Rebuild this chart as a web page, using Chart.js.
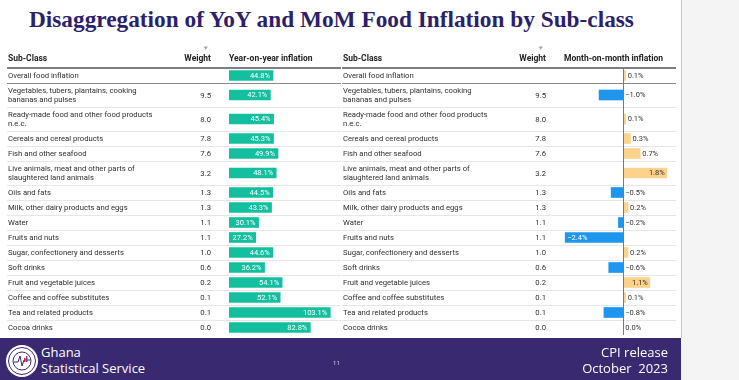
<!DOCTYPE html>
<html>
<head>
<meta charset="utf-8">
<script src="https://cdn.jsdelivr.net/npm/chart.js@4.4.4/dist/chart.umd.min.js"></script>
<style>
  html, body { margin: 0; padding: 0; }
  body { width: 739px; height: 380px; background: #f4f4f4; position: relative; overflow: hidden; font-family: Roboto, sans-serif; }
  #slide { position: absolute; left: 0; top: 0; width: 681px; height: 380px; background: #fff; }
  #edge { position: absolute; left: 681px; top: 0; width: 1px; height: 338px; background: #c8c8c8; }
  #title { position: absolute; left: 29px; top: 6px; font-family: 'Liberation Serif', serif; font-weight: bold; font-size: 23.3px; color: #2c1f6b; white-space: nowrap; }
  canvas { position: absolute; top: 0; }
  #yoy { left: 0; }
  #mom { left: 335px; }
  #footer { position: absolute; left: 0; top: 338px; width: 681px; height: 42px; background: #392970; color: #fff; font-family: 'Open Sans', sans-serif; }
  #footer .org { position: absolute; left: 41px; top: 6px; font-size: 13px; line-height: 16px; white-space: pre; }
  #footer .rel { position: absolute; right: 13px; top: 6px; font-size: 13px; line-height: 16px; text-align: right; white-space: pre; }
  #footer .page { position: absolute; left: 333px; top: 21px; font-size: 6px; color: #ddd; }
  #footer svg { position: absolute; left: 5px; top: 6px; }
</style>
</head>
<body>
<div id="slide">
  <div id="title">Disaggregation of YoY and MoM Food Inflation by Sub-class</div>
  <canvas id="yoy" width="341" height="338"></canvas>
  <canvas id="mom" width="341" height="338"></canvas>
  <div id="footer">
    <svg width="34" height="34" viewBox="0 0 34 34">
      <circle cx="17" cy="17" r="16" fill="#fff"/>
      <circle cx="17" cy="17" r="13.5" fill="none" stroke="#392970" stroke-width="1"/>
      <circle cx="17" cy="17" r="9" fill="#fff" stroke="#392970" stroke-width="1"/>
      <path d="M9 18 H13 L15 12 L17 22 L19 16 H25" fill="none" stroke="#392970" stroke-width="1"/>
      <rect x="19" y="14" width="1.5" height="4" fill="#d22"/>
      <rect x="21" y="12" width="1.5" height="6" fill="#7a3ea0"/>
    </svg>
    <div class="org">Ghana
Statistical Service</div>
    <div class="page">11</div>
    <div class="rel">CPI release
October  2023</div>
  </div>
</div>
<div id="edge"></div>

<script>
// ─── Data ────────────────────────────────────────────────────────────────────
const subClasses = [
  'Overall food inflation',
  'Vegetables, tubers, plantains, cooking\nbananas and pulses',
  'Ready-made food and other food products\nn.e.c.',
  'Cereals and cereal products',
  'Fish and other seafood',
  'Live animals, meat and other parts of\nslaughtered land animals',
  'Oils and fats',
  'Milk, other dairy products and eggs',
  'Water',
  'Fruits and nuts',
  'Sugar, confectionery and desserts',
  'Soft drinks',
  'Fruit and vegetable juices',
  'Coffee and coffee substitutes',
  'Tea and related products',
  'Cocoa drinks',
];
const weights = ['', '9.5', '8.0', '7.8', '7.6', '3.2', '1.3', '1.3', '1.1', '1.1', '1.0', '0.6', '0.2', '0.1', '0.1', '0.0'];
const yoyInflation = [44.8, 42.1, 45.4, 45.3, 49.9, 48.1, 44.5, 43.3, 30.1, 27.2, 44.6, 36.2, 54.1, 52.1, 103.1, 82.8];
const momInflation = [0.1, -1.0, 0.1, 0.3, 0.7, 1.8, -0.5, 0.2, -0.2, -2.4, 0.2, -0.6, 1.1, 0.1, -0.8, 0.0];

// ─── Row layout (two-line rows are taller) ───────────────────────────────────
const rowUnits = subClasses.map(s => 1 + 0.6 * (s.split('\n').length - 1));
const rowTop = [];
let totalUnits = 0;
rowUnits.forEach(u => { rowTop.push(totalUnits); totalUnits += u; });
const rowMid = rowTop.map((t, i) => t + rowUnits[i] / 2);

const BODY_FONT = '7.7px Roboto';
const HEAD_FONT = 'bold 8.5px Roboto';
const TEXT_NUDGE = 1; // Roboto sits a little high with textBaseline 'middle'
const fmt = v => (v < 0 ? '\u2212' : '') + Math.abs(v).toFixed(1) + '%';

// ─── Table text + rules drawn around the bars ────────────────────────────────
function tablePlugin(heading) {
  return {
    id: 'table',
    beforeDatasetsDraw(chart) {
      const { ctx, chartArea } = chart;
      const y = chart.scales.y;
      const x0 = 7, x1 = 341;

      // row rules
      rowTop.forEach((t, i) => {
        if (i === 0) return;
        ctx.beginPath();
        const py = Math.round(y.getPixelForValue(t)) + 0.5;
        ctx.moveTo(x0, py);
        ctx.lineTo(x1, py);
        ctx.strokeStyle = i === 1 ? '#8a8a8a' : '#e6e6e6';
        ctx.lineWidth = 1;
        ctx.stroke();
      });
      // header rule
      ctx.beginPath();
      const hy = y.getPixelForValue(0);
      ctx.moveTo(x0, hy);
      ctx.lineTo(x1, hy);
      ctx.strokeStyle = '#555';
      ctx.lineWidth = 1.3;
      ctx.stroke();

      // header
      ctx.font = HEAD_FONT;
      ctx.fillStyle = '#222';
      ctx.textBaseline = 'middle';
      ctx.textAlign = 'left';
      ctx.fillText('Sub-Class', 8, 58 + TEXT_NUDGE);
      ctx.fillText(heading, chartArea.left, 58 + TEXT_NUDGE);
      ctx.textAlign = 'right';
      ctx.fillText('Weight', 211, 58 + TEXT_NUDGE);

      // sort arrow over Weight
      ctx.beginPath();
      ctx.moveTo(203.5, 46.5);
      ctx.lineTo(208, 46.5);
      ctx.lineTo(205.75, 50);
      ctx.closePath();
      ctx.fillStyle = '#aaa';
      ctx.fill();

      // rows
      ctx.font = BODY_FONT;
      ctx.fillStyle = '#2e2e2e';
      subClasses.forEach((name, i) => {
        const mid = y.getPixelForValue(rowMid[i]) + TEXT_NUDGE;
        const lines = name.split('\n');
        ctx.textAlign = 'left';
        lines.forEach((ln, j) => ctx.fillText(ln, 8, mid + (j - (lines.length - 1) / 2) * 9));
        ctx.textAlign = 'right';
        ctx.fillText(weights[i], 211, mid);
      });
    },
  };
}

// ─── Value labels ────────────────────────────────────────────────────────────
function labelPlugin(kind) {
  return {
    id: 'labels',
    afterDatasetsDraw(chart) {
      const { ctx, chartArea } = chart;
      const meta = chart.getDatasetMeta(0);
      const values = chart.data.datasets[0].data.map(d => d.x);
      ctx.font = '7.5px Roboto';
      ctx.textBaseline = 'middle';

      if (kind === 'mom') {
        const zx = Math.round(chart.scales.x.getPixelForValue(0)) + 0.5;
        ctx.beginPath();
        ctx.moveTo(zx, chart.scales.y.getPixelForValue(0));
        ctx.lineTo(zx, chartArea.bottom);
        ctx.strokeStyle = '#7a7a7a';
        ctx.lineWidth = 1;
        ctx.stroke();
      }

      meta.data.forEach((bar, i) => {
        const v = values[i];
        const txt = fmt(v);
        const w = ctx.measureText(txt).width;
        const len = Math.abs(bar.x - bar.base);
        const ty = bar.y + 0.6;
        if (kind === 'yoy') {
          ctx.textAlign = 'right';
          ctx.fillStyle = '#fff';
          ctx.fillText(txt, bar.x - 3, ty);
          return;
        }
        if (len > w + 6) {
          if (v > 0) {
            ctx.textAlign = 'right';
            ctx.fillStyle = '#333';
            ctx.fillText(txt, bar.x - 2, ty);
          } else {
            ctx.textAlign = 'left';
            ctx.fillStyle = '#fff';
            ctx.fillText(txt, bar.x + 2, ty);
          }
        } else {
          ctx.textAlign = 'left';
          ctx.fillStyle = '#333';
          ctx.fillText(txt, Math.max(bar.x, bar.base) + 2, ty);
        }
      });
    },
  };
}

function makePanel(id, heading, values, kind, colorFn, xMin, xMax, padRight) {
  const ctx = document.getElementById(id).getContext('2d');
  return new Chart(ctx, {
    type: 'bar',
    data: {
      datasets: [{
        data: values.map((v, i) => ({ x: v, y: rowMid[i] })),
        backgroundColor: values.map(colorFn),
        barThickness: 10,
        borderWidth: 0,
      }],
    },
    options: {
      indexAxis: 'y',
      responsive: false,
      animation: false,
      events: [],
      layout: { padding: { left: 229, right: padRight, top: 68, bottom: 3 } },
      scales: {
        x: { type: 'linear', display: false, min: xMin, max: xMax },
        y: { type: 'linear', display: false, offset: false, min: 0, max: totalUnits, reverse: true },
      },
      plugins: { legend: { display: false }, tooltip: { enabled: false } },
    },
    plugins: [tablePlugin(heading), labelPlugin(kind)],
  });
}

makePanel('yoy', 'Year-on-year inflation', yoyInflation, 'yoy', () => '#13bf9f', 0, 113, 1);
makePanel('mom', 'Month-on-month inflation', momInflation, 'mom',
  v => (v < 0 ? '#1e96ee' : '#fdd38b'), -2.45, 1.85, 8);
</script>
</body>
</html>
